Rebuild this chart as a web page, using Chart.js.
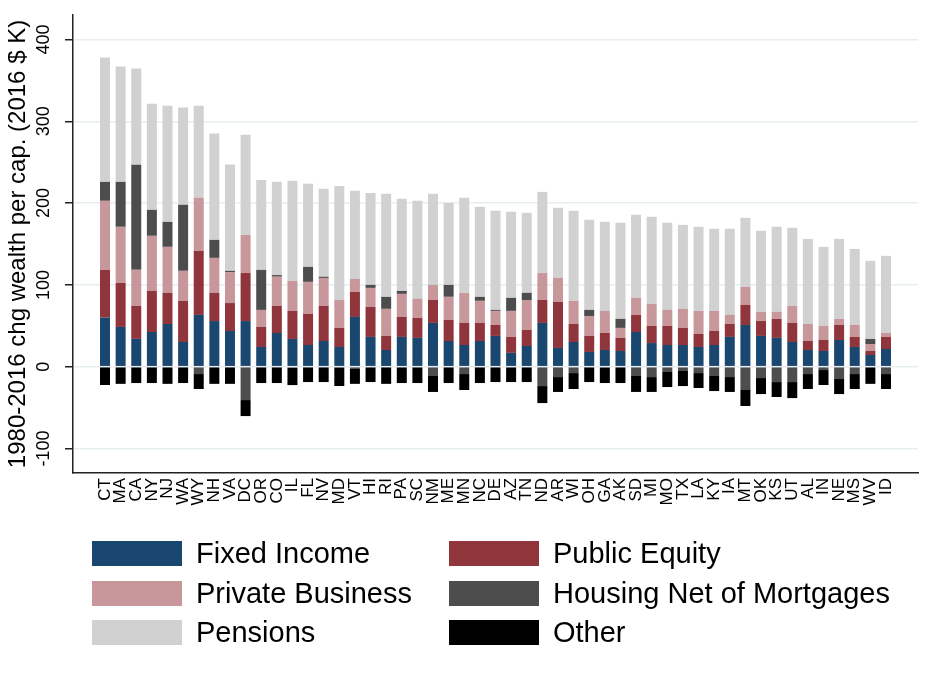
<!DOCTYPE html>
<html><head><meta charset="utf-8">
<script src="https://cdn.jsdelivr.net/npm/chart.js@4"></script>
<style>
html,body{margin:0;padding:0;background:#fff;}
#wrap{position:relative;width:933px;height:686px;overflow:hidden;}
canvas{position:absolute;left:0;top:0;}
#legend{position:absolute;left:92px;top:541px;display:grid;grid-template-columns:357px 357px;grid-auto-rows:39.5px;font-family:"Liberation Sans",Arial,Helvetica,sans-serif;font-size:29px;color:#000;}
.item{display:flex;align-items:center;height:25px;white-space:nowrap;}
.sw{width:90px;height:25px;margin-right:14px;flex:none;}
</style></head>
<body><div id="wrap"><canvas id="c" width="933" height="686"></canvas><div id="legend"></div></div>
<script>
const states = ['CT','MA','CA','NY','NJ','WA','WY','NH','VA','DC','OR','CO','IL','FL','NV','MD','VT','HI','RI','PA','SC','NM','ME','MN','NC','DE','AZ','TN','ND','AR','WI','OH','GA','AK','SD','MI','MO','TX','LA','KY','IA','MT','OK','KS','UT','AL','IN','NE','MS','WV','ID'];
const fixedIncome     = [60,48.6,34,42.4,52.2,30.2,63.3,55.8,43.6,55.8,24.1,41.2,33.9,26.5,31.4,24.1,60.8,36.4,20.4,36.4,35.2,53.5,31.4,26.5,31.4,37.6,16.9,25.3,53.5,22.9,30.2,18,20.4,19.2,42.4,28.9,26.5,26.5,24.1,26.5,36.4,51,37.6,35.2,30.2,20.4,19.2,32.6,24.1,14.3,21.6];
const publicEquity    = [58.4,53.8,40.4,50.3,38.1,50.3,78.4,34.5,34.2,58.7,24.5,33.1,34.3,38,42.9,23.3,30.7,36.6,17.2,24.4,24.4,28,25.7,27,22.1,13.4,19.5,19.6,28,56.4,22,19.6,20.8,16,20.9,20.9,23.3,20.9,15.9,17.1,15.8,24.5,18.2,23.2,23.3,11,13.4,18.4,12.3,4.9,14.8];
const privateBusiness = [84.4,68.6,44,67.3,56.2,36.7,64.9,42.7,37.9,46.5,20.8,35.7,36.8,39.2,34.2,34.1,15.8,23.3,33.1,28.2,23.3,18.5,28.3,36.8,27,17.2,31.8,36.6,33,29.2,28.3,24.4,27,12.2,20.9,26.8,19.6,23.3,28.2,24.6,11.1,22.1,11.2,8.6,20.8,20.8,17.2,7.4,14.6,8.5,4.8];
const housingNet      = [23.2,55,128.6,31.8,30.5,80.8,-9,22,1.5,-40.8,49,2,-1.5,18.3,1.5,-1,-2,3.7,14.7,3.7,0,-11.4,14.6,-9,4.9,1.2,16,8.8,-23.7,-12.7,-7.8,7.4,-1,11,-11.4,-12.7,-6.5,-5.3,-7.8,-11.4,-12.7,-28.5,-13.9,-18.8,-18.8,-9,-4.1,-15.1,-9,6.2,-9];
const pensions        = [152,141,117.5,129.8,142,118.8,112.4,130,130,122.7,110,114,122.4,101.7,107.6,139.5,107.7,112.5,125.9,112.5,119.9,111.3,100.2,116.3,110.1,121.2,105.2,97.8,99.2,85.8,110.1,110.2,109,117.5,101.5,106.7,106.5,102.7,102.8,100.4,105.3,84.4,99.2,104,95.5,104,96.7,97.8,93,95.5,94.3];
const other           = [-22.4,-21,-20,-20,-21,-20,-18.3,-21,-21,-19.6,-20,-20,-21,-18.8,-18.8,-22.6,-19,-18.8,-21,-20,-20,-19.5,-20,-19.5,-20,-18.8,-18.8,-18.8,-20.8,-18.2,-19.5,-18.8,-19,-20,-19.5,-18.2,-18.4,-18.4,-18.3,-18.4,-18.2,-19.6,-19.6,-18.3,-19.6,-18.3,-18.3,-18.4,-18.3,-21,-18.3];
const seriesNames  = ['Fixed Income','Public Equity','Private Business','Housing Net of Mortgages','Pensions','Other'];
const seriesValues = [fixedIncome, publicEquity, privateBusiness, housingNet, pensions, other];
const seriesColors = ['#1a476f','#90353b','#c8979b','#4d4d4d','#d1d1d1','#000000'];
const yTickValues  = [-100,0,100,200,300,400];
const yTitle = '1980-2016 chg wealth per cap. (2016 $ K)';

const FONT = '"Liberation Sans", Arial, Helvetica, sans-serif';

const yLabelPlugin = {
  id: 'yLabels',
  afterDraw(chart) {
    const s = chart.scales.y, ctx = chart.ctx;
    ctx.save();
    ctx.font = '18px ' + FONT;
    ctx.fillStyle = '#000';
    ctx.textAlign = 'center';
    ctx.textBaseline = 'middle';
    yTickValues.forEach(v => {
      const y = s.getPixelForValue(v);
      ctx.save();
      ctx.translate(s.right - 29, y);
      ctx.rotate(-Math.PI / 2);
      ctx.fillText(String(v), 0, 0);
      ctx.restore();
    });
    ctx.restore();
  }
};

const datasets = seriesNames.map((name, k) => ({
  label: name,
  data: seriesValues[k].map((v, i) => ({x: i, y: v})),
  backgroundColor: seriesColors[k],
  borderWidth: 0,
  barPercentage: 0.64,
  categoryPercentage: 1
}));

new Chart(document.getElementById('c'), {
  type: 'bar',
  data: { datasets },
  options: {
    responsive: false,
    animation: false,
    layout: { padding: { left: 0, right: 15, top: 15, bottom: 0 } },
    plugins: { legend: { display: false }, tooltip: { enabled: false } },
    scales: {
      x: {
        type: 'linear', stacked: true, min: -2.05, max: 52.05, offset: false,
        afterBuildTicks: s => { s.ticks = states.map((_, i) => ({ value: i })); },
        afterFit: s => { s.height = 213; },
        grid: { display: false, drawTicks: false },
        border: { display: true, color: '#222', width: 1.5 },
        ticks: { autoSkip: false, minRotation: 90, maxRotation: 90, padding: 5,
                 font: { family: FONT, size: 17 }, color: '#000',
                 callback: (v, i) => states[i] }
      },
      y: {
        stacked: true, min: -130, max: 430,
        afterBuildTicks: s => { s.ticks = yTickValues.map(v => ({ value: v })); },
        afterFit: s => { s.width = 73; },
        grid: { color: '#e6eef0', lineWidth: 1.5, tickColor: '#222', tickLength: 8, tickWidth: 1.5 },
        border: { color: '#222', width: 1.5 },
        ticks: { display: false },
        title: { display: true, text: yTitle, font: { family: FONT, size: 24 }, color: '#000', padding: { top: 4, bottom: 0 } }
      }
    }
  },
  plugins: [yLabelPlugin]
});

const legend = document.getElementById('legend');
seriesNames.forEach((name, k) => {
  const it = document.createElement('div');
  it.className = 'item';
  const sw = document.createElement('span');
  sw.className = 'sw';
  sw.style.background = seriesColors[k];
  const tx = document.createElement('span');
  tx.textContent = name;
  it.appendChild(sw); it.appendChild(tx);
  legend.appendChild(it);
});
</script>
</body></html>
